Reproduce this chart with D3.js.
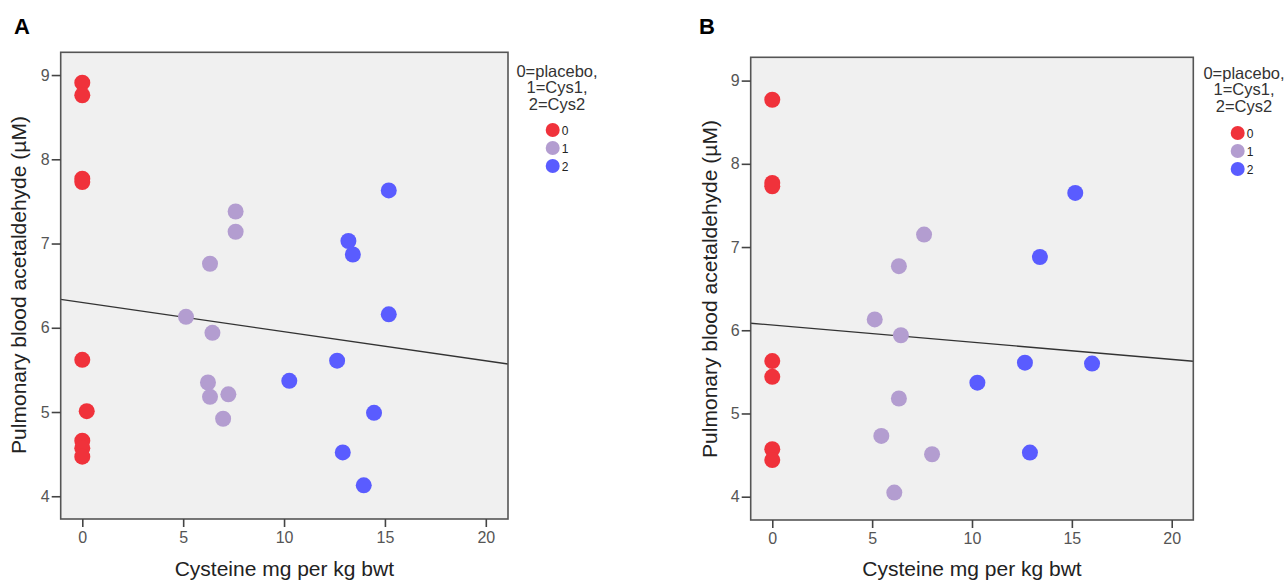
<!DOCTYPE html>
<html>
<head>
<meta charset="utf-8">
<script src="https://cdn.jsdelivr.net/npm/d3@7"></script>
<style>
  body { margin: 0; background: #fff; }
  svg { display: block; font-family: 'Liberation Sans', Arial, sans-serif; }
</style>
</head>
<body>
<svg id="chart" width="1287" height="580"></svg>
<script>
// group codes and colours
const groups = ['0', '1', '2'];
const groupColors = ['#f0323b', '#b39dd0', '#5a5cff'];
const legendTitle = ['0=placebo,', '1=Cys1,', '2=Cys2'];
const xTicks = [0, 5, 10, 15, 20];
const yTicks = [4, 5, 6, 7, 8, 9];

// panel A : group, cysteine dose, acetaldehyde
const aGroup = [0, 0, 0, 0, 0, 0, 0, 0, 0, 1, 1, 1, 1, 1, 1, 1, 1, 1, 2, 2, 2, 2, 2, 2, 2, 2, 2];
const aCys = [0, 0, 0, 0, 0, 0.22, 0, 0, 0,
  7.6, 7.6, 6.33, 5.14, 6.45, 6.23, 6.33, 7.24, 6.98,
  15.19, 13.19, 13.41, 15.19, 12.63, 10.26, 14.46, 12.91, 13.95];
const aAld = [8.91, 8.76, 7.77, 7.73, 5.62, 5.01, 4.66, 4.57, 4.47,
  7.38, 7.14, 6.76, 6.13, 5.94, 5.35, 5.18, 5.21, 4.92,
  7.63, 7.03, 6.87, 6.16, 5.61, 5.37, 4.99, 4.52, 4.13];
const aFit = [6.30, -0.0346]; // intercept, slope

// panel B
const bGroup = [0, 0, 0, 0, 0, 0, 0, 1, 1, 1, 1, 1, 1, 1, 1, 2, 2, 2, 2, 2, 2];
const bCys = [0, 0, 0, 0, 0, 0, 0,
  7.6, 6.34, 5.13, 6.44, 6.34, 5.46, 8.0, 6.11,
  15.17, 13.4, 12.65, 16.01, 10.27, 12.9];
const bAld = [8.77, 7.77, 7.73, 5.63, 5.44, 4.57, 4.44,
  7.15, 6.77, 6.13, 5.94, 5.18, 4.73, 4.51, 4.05,
  7.65, 6.88, 5.61, 5.60, 5.37, 4.53];
const bFit = [6.062, -0.0206];

const svg = d3.select('#chart');

function panel(opts) {
  const { letter, frame, xDom, yDom, grp, xs, ys, fit, legend } = opts;
  const [x0, y0, x1, y1] = frame;
  const x = d3.scaleLinear(xDom, [x0, x1]);
  const y = d3.scaleLinear(yDom, [y1, y0]);
  const g = svg.append('g');

  g.append('text')
    .attr('x', opts.letterPos[0]).attr('y', opts.letterPos[1])
    .style('font-weight', 'bold').style('font-size', '22px')
    .attr('fill', '#000')
    .text(letter);

  g.append('rect')
    .attr('x', x0).attr('y', y0)
    .attr('width', x1 - x0).attr('height', y1 - y0)
    .attr('fill', '#f0f0f0');

  // fit line
  g.append('line')
    .attr('x1', x(xDom[0])).attr('y1', y(fit[0] + fit[1] * xDom[0]))
    .attr('x2', x(xDom[1])).attr('y2', y(fit[0] + fit[1] * xDom[1]))
    .attr('stroke', '#333').attr('stroke-width', 1.3);

  g.append('g')
    .selectAll('circle')
    .data(d3.range(xs.length))
    .join('circle')
    .attr('cx', (i) => x(xs[i]))
    .attr('cy', (i) => y(ys[i]))
    .attr('r', 8)
    .attr('fill', (i) => groupColors[grp[i]]);

  g.append('rect')
    .attr('x', x0).attr('y', y0)
    .attr('width', x1 - x0).attr('height', y1 - y0)
    .attr('fill', 'none').attr('stroke', '#555').attr('stroke-width', 1.6);

  const xAxis = g.append('g')
    .attr('transform', `translate(0,${y1})`)
    .call(d3.axisBottom(x).tickValues(xTicks).tickFormat(d3.format('d')).tickSize(8).tickPadding(5));
  const yAxis = g.append('g')
    .attr('transform', `translate(${x0},0)`)
    .call(d3.axisLeft(y).tickValues(yTicks).tickFormat(d3.format('d')).tickSize(9).tickPadding(2));
  [xAxis, yAxis].forEach((ax) => {
    ax.select('.domain').remove();
    ax.selectAll('.tick line').attr('stroke', '#444').attr('stroke-width', 1.6);
    ax.selectAll('.tick text').attr('fill', '#555')
      .style('font-size', '16px').style('font-family', "'Liberation Sans', Arial, sans-serif");
  });

  g.append('text')
    .attr('x', (x0 + x1) / 2).attr('y', 576)
    .attr('text-anchor', 'middle')
    .style('font-size', '21px').attr('fill', '#222')
    .text('Cysteine mg per kg bwt');

  g.append('text')
    .attr('transform', `translate(${opts.yTitleX},${opts.yTitleY}) rotate(-90)`)
    .attr('text-anchor', 'middle')
    .style('font-size', '21px').attr('fill', '#222')
    .text('Pulmonary blood acetaldehyde (µM)');

  const lg = g.append('g');
  lg.selectAll('text.title')
    .data(legendTitle)
    .join('text')
    .attr('class', 'title')
    .attr('x', legend.cx)
    .attr('y', (d, i) => legend.ty + i * 16.5)
    .attr('text-anchor', 'middle')
    .attr('dy', '0.35em')
    .style('font-size', '16.5px').attr('fill', '#333')
    .text((d) => d);
  lg.selectAll('circle')
    .data(groups)
    .join('circle')
    .attr('cx', legend.dx)
    .attr('cy', (d, i) => legend.dy + i * 18)
    .attr('r', 7)
    .attr('fill', (d, i) => groupColors[i]);
  lg.selectAll('text.item')
    .data(groups)
    .join('text')
    .attr('class', 'item')
    .attr('x', legend.dx + 9)
    .attr('y', (d, i) => legend.dy + i * 18)
    .attr('dy', '0.4em')
    .style('font-size', '12px').attr('fill', '#222')
    .text((d) => d);
}

panel({
  letter: 'A', letterPos: [14, 34],
  frame: [60.7, 52.3, 508, 519],
  xDom: [-1.07, 21.1], yDom: [3.73, 9.27],
  grp: aGroup, xs: aCys, ys: aAld, fit: aFit,
  yTitleX: 26, yTitleY: 285,
  legend: { cx: 557, ty: 71, dx: 552.7, dy: 130 },
});

panel({
  letter: 'B', letterPos: [699, 34],
  frame: [750.7, 57.3, 1193.3, 520],
  xDom: [-1.08, 21.08], yDom: [3.72, 9.28],
  grp: bGroup, xs: bCys, ys: bAld, fit: bFit,
  yTitleX: 717, yTitleY: 289,
  legend: { cx: 1244, ty: 73, dx: 1237.7, dy: 133 },
});
</script>
</body>
</html>
